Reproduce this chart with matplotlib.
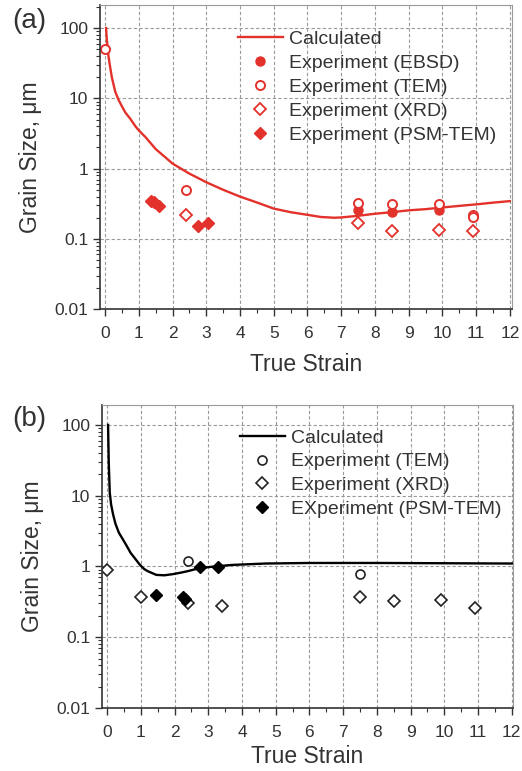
import matplotlib
matplotlib.use("Agg")
import matplotlib.pyplot as plt
from matplotlib.ticker import LogLocator, FixedLocator, FuncFormatter, NullFormatter

plt.rcParams['font.family'] = ['Liberation Sans', 'DejaVu Sans']

RED = '#e3312b'
TXT = '#333333'

# ---- panel (a) data ----
a_calc_x = [0.03, 0.05, 0.1, 0.15, 0.2, 0.3, 0.4, 0.5, 0.6, 0.75, 0.9, 1.0, 1.2, 1.5, 1.75, 2.0, 2.25,
            2.5, 3.0, 3.5, 4.0, 4.5, 5.0, 5.5, 6.0, 6.4, 6.8, 7.0, 7.5, 8.0, 8.5, 9.0, 9.5, 10.0,
            10.5, 11.0, 11.5, 12.0]
a_calc_y = [100, 70, 40, 28, 20, 12.5, 9.5, 7.7, 6.3, 5.1, 4.0, 3.5, 2.8, 1.9, 1.5, 1.18, 1.0,
            0.85, 0.64, 0.5, 0.40, 0.33, 0.27, 0.24, 0.22, 0.205, 0.20, 0.202, 0.213, 0.228, 0.24,
            0.255, 0.265, 0.28, 0.295, 0.31, 0.328, 0.345]
a_ebsd_x = [7.5, 8.5, 9.9]
a_ebsd_y = [0.26, 0.24, 0.26]
a_tem_x = [0.0, 2.4, 7.5, 8.5, 9.9, 10.9, 10.9]
a_tem_y = [50, 0.49, 0.325, 0.31, 0.31, 0.22, 0.205]
a_xrd_x = [2.4, 7.5, 8.5, 9.9, 10.9]
a_xrd_y = [0.22, 0.17, 0.13, 0.135, 0.13]
a_psm_x = [1.35, 1.45, 1.6, 2.75, 3.05]
a_psm_y = [0.35, 0.33, 0.29, 0.155, 0.17]

# ---- panel (b) data ----
b_calc_x = [0.03, 0.05, 0.08, 0.12, 0.18, 0.25, 0.35, 0.45, 0.57, 0.7, 0.8, 0.97, 1.1, 1.2, 1.46,
            1.7, 1.96, 2.2, 2.4, 2.75, 3.2, 3.7, 4.7, 6.0, 8.0, 10.0, 12.0]
b_calc_y = [100, 30, 11, 7.5, 5.4, 4.0, 3.0, 2.5, 2.0, 1.55, 1.35, 1.06, 0.92, 0.86, 0.76,
            0.75, 0.78, 0.82, 0.86, 0.95, 1.0, 1.05, 1.1, 1.12, 1.12, 1.11, 1.1]
b_tem_x = [2.4, 7.5]
b_tem_y = [1.2, 0.79]
b_xrd_x = [0.0, 1.0, 2.4, 3.4, 7.5, 8.5, 9.9, 10.9]
b_xrd_y = [0.9, 0.37, 0.30, 0.28, 0.37, 0.32, 0.34, 0.26]
b_psm_x = [1.45, 2.25, 2.3, 2.75, 3.3]
b_psm_y = [0.39, 0.37, 0.35, 0.98, 0.98]

ytick_vals = [0.01, 0.1, 1, 10, 100]
ytick_labels = ['0.01', '0.1', '1', '10', '100']
xtick_vals = list(range(13))


def style_axes(ax, xlim, ylim, xpad):
    ax.set_yscale('log')
    ax.set_xlim(*xlim)
    ax.set_ylim(*ylim)
    ax.yaxis.set_major_locator(FixedLocator(ytick_vals))
    ax.yaxis.set_major_formatter(FuncFormatter(
        lambda v, p: ytick_labels[ytick_vals.index(v)] if v in ytick_vals else ''))
    ax.yaxis.set_minor_locator(LogLocator(base=10, subs=range(2, 10)))
    ax.yaxis.set_minor_formatter(NullFormatter())
    ax.xaxis.set_major_locator(FixedLocator(xtick_vals))
    ax.xaxis.set_minor_locator(FixedLocator([v + 0.5 for v in range(12)]))
    ax.tick_params(which='major', direction='out', length=5, width=1,
                   labelsize=12.5, labelcolor=TXT, color=TXT)
    ax.tick_params(axis='x', which='major', pad=7)
    ax.tick_params(which='minor', direction='out', length=3, width=0.8, color=TXT)
    ax.grid(True, which='major', color='#9a9a9a', linestyle=(0, (3, 2)), linewidth=0.8)
    for s in ['left', 'bottom']:
        ax.spines[s].set_color(TXT)
        ax.spines[s].set_linewidth(1.2)
    for s in ['top', 'right']:
        ax.spines[s].set_color('#999999')
        ax.spines[s].set_linewidth(0.8)
    ax.set_xlabel('True Strain', fontsize=16.5, color=TXT, labelpad=xpad)
    ax.set_ylabel('Grain Size, \u03bcm', fontsize=16.5, color=TXT, labelpad=9)


fig = plt.figure(figsize=(5.22, 7.71), dpi=100)

# ---- (a) ----
ax1 = fig.add_axes([0.1916, 0.599, 0.789, 0.3945])
style_axes(ax1, (-0.15, 12.06), (0.01, 213), 9)
ax1.plot(a_calc_x, a_calc_y, color=RED, lw=1.7, label='Calculated')
ax1.plot(a_ebsd_x, a_ebsd_y, 'o', color=RED, ms=6.5, label='Experiment (EBSD)')
ax1.plot(a_tem_x, a_tem_y, 'o', mfc='white', mec=RED, mew=1.4, ms=6.5, label='Experiment (TEM)')
ax1.plot(a_xrd_x, a_xrd_y, 'D', mfc='white', mec=RED, mew=1.3, ms=6, label='Experiment (XRD)')
ax1.plot(a_psm_x, a_psm_y, 'D', color=RED, ms=6.5, label='Experiment (PSM-TEM)')
leg1 = ax1.legend(loc='upper left', bbox_to_anchor=(238 / 522, 1 - 30 / 771),
                  bbox_transform=fig.transFigure, frameon=False, fontsize=14,
                  handlelength=2.3, handletextpad=0.3, labelspacing=0.33,
                  borderpad=0, borderaxespad=0, labelcolor=TXT)
fig.text(12 / 522, 1 - 21 / 771, '(a)', fontsize=20, color=TXT, va='center', ha='left')

# ---- (b) ----
ax2 = fig.add_axes([0.1954, 0.0817, 0.787, 0.393])
style_axes(ax2, (-0.15, 12.03), (0.01, 191), 4)
ax2.plot(b_calc_x, b_calc_y, color='black', lw=1.7, label='Calculated')
ax2.plot(b_tem_x, b_tem_y, 'o', mfc='white', mec='#222222', mew=1.2, ms=6.5, label='Experiment (TEM)')
ax2.plot(b_xrd_x, b_xrd_y, 'D', mfc='white', mec='#222222', mew=1.2, ms=6, label='Experiment (XRD)')
ax2.plot(b_psm_x, b_psm_y, 'D', color='black', ms=6.5, label='EXperiment (PSM-TEM)')
leg2 = ax2.legend(loc='upper left', bbox_to_anchor=(240 / 522, 1 - 429 / 771),
                  bbox_transform=fig.transFigure, frameon=False, fontsize=14,
                  handlelength=2.3, handletextpad=0.3, labelspacing=0.32,
                  borderpad=0, borderaxespad=0, labelcolor=TXT)
fig.text(12 / 522, 1 - 419 / 771, '(b)', fontsize=20, color=TXT, va='center', ha='left')

fig.savefig('out.png', dpi=100)
